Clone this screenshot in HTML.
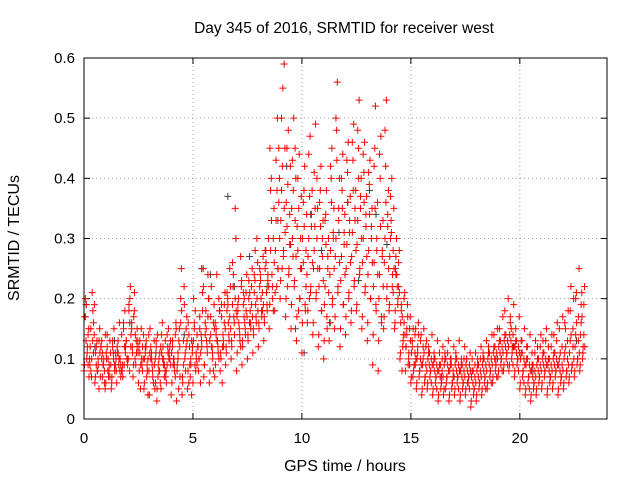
<!DOCTYPE html>
<html><head><meta charset="utf-8"><style>
body{margin:0;background:#fff}
svg{display:block;font-family:"Liberation Sans",sans-serif}
</style></head><body>
<svg id="chart" width="640" height="480">
<rect width="640" height="480" fill="#fff"/>
<text x="344" y="33" font-size="15.5" text-anchor="middle">Day 345 of 2016, SRMTID for receiver west</text>
<text x="19" y="238" font-size="16" text-anchor="middle" transform="rotate(-90 19 238)">SRMTID / TECUs</text>
<text x="345" y="471" font-size="16" text-anchor="middle">GPS time / hours</text>
<g id="grid"></g>
<g id="ticks"></g>
<g id="grey"></g>
<g id="red"></g>
<rect x="84" y="58" width="523" height="361" fill="none" stroke="#000" stroke-width="1"/>
</svg>
<script>
const xTicks=[0,5,10,15,20];
const yTicks=[0,0.1,0.2,0.3,0.4,0.5,0.6];
const yTickLabels=["0","0.1","0.2","0.3","0.4","0.5","0.6"];
const binStep=0.25;
const redBins=[
[8,12,20,15,10,17,9,13],[10,18,8,14,21,12,16,7],[6,9,12,15,8,11,5,13],[7,10,13,5,9,12,8,11],
[6,9,14,11,7,10,13,8],[5,8,12,10,15,7,9,11],[6,10,13,8,16,11,7,9],[8,12,15,10,18,7,13,9],
[9,14,19,12,22,10,16,8],[7,11,21,13,9,17,15,10],[6,9,13,10,15,8,12,5],[5,8,11,14,7,10,4,12],
[4,7,10,13,9,15,6,11],[5,9,12,8,14,6,10,3],[6,10,14,8,12,5,9,16],[7,11,9,13,15,6,10,12],
[4,8,12,16,10,6,14,9],[3,7,11,25,15,9,20,5],[4,8,13,17,10,6,12,22],[5,9,14,11,7,16,4,12],
[6,10,15,12,8,20,14,9],[8,12,17,25,14,10,21,6],[7,11,16,20,13,9,24,18],[6,10,14,19,12,8,16,22],
[7,11,15,18,13,9,20,24],[8,12,17,21,14,10,19,6],[9,13,18,22,16,11,25,20],[10,14,19,30,17,12,35,22],
[8,13,18,22,15,11,27,20],[9,14,19,24,16,12,21,17],[10,15,20,25,18,13,22,16],[11,16,21,26,19,14,30,23],
[12,17,22,27,20,15,18,24],[13,18,25,30,21,16,23,28],[15,20,28,35,24,45,18,40],[18,25,33,40,50,28,45,22],
[20,28,38,45,55,33,59,25],[17,25,32,42,48,36,29,22],[15,23,30,40,50,35,45,27],[13,20,28,37,44,32,25,18],
[11,18,26,34,42,30,22,38],[16,22,30,38,47,27,34,20],[14,21,28,35,49,25,40,32],[12,18,25,33,42,22,30,38],
[10,15,22,30,38,19,27,34],[13,20,28,35,45,24,31,40],[15,22,30,40,56,27,35,48],[12,19,27,34,44,23,31,38],
[14,21,29,37,46,25,33,41],[16,23,31,38,49,27,35,43],[18,25,33,40,53,29,37,45],[15,22,30,37,46,26,34,41],
[13,20,28,35,43,24,32,39],[9,18,26,36,52,22,30,45],[8,16,24,33,47,20,28,40],[15,22,30,38,53,26,34,42],
[18,24,30,35,40,27,21,33],[15,20,24,28,22,18,26,30],[10,14,18,21,12,16,20,8],[8,11,14,17,9,12,15,19],
[6,9,12,15,8,11,14,7],[5,8,11,14,7,10,13,16],[4,7,10,13,6,9,12,15],[5,8,11,14,7,10,6,9],
[4,7,10,13,6,9,5,8],[3,6,9,12,5,8,10,7],[4,7,10,13,6,9,11,5],[3,6,9,12,5,8,7,10],
[4,7,10,13,6,9,5,8],[3,6,9,12,5,8,10,7],[4,7,10,11,6,9,5,8],[2,5,8,11,4,7,9,6],
[3,6,9,12,5,8,10,7],[4,7,10,13,6,9,5,8],[5,8,11,14,7,10,6,9],[6,9,12,15,8,11,7,10],
[7,10,13,17,9,12,8,11],[8,11,14,20,10,13,9,12],[8,12,16,19,10,14,9,13],[7,10,13,17,9,12,8,11],
[5,8,11,15,7,10,6,13],[4,7,10,14,6,9,5,12],[3,6,9,13,5,8,11,7],[4,7,10,14,6,9,12,8],
[5,8,11,15,7,10,13,9],[4,7,10,14,6,9,12,8],[5,8,11,16,7,10,13,9],[4,7,10,17,6,9,12,8],
[5,8,11,18,7,10,13,15],[6,9,13,20,8,11,15,22],[7,10,14,25,9,12,17,21],[8,12,16,22,10,14,19,21]
];
const redBins2=[
[11,9,14,17,7,19],[13,9,11,15,19,10],[10,7,13,9,11,8],[9,12,6,10,14,7],
[8,11,7,12,9,10],[9,6,11,13,8,10],[8,12,9,11,14,10],[11,9,13,16,10,12],
[12,10,15,18,11,20],[13,9,12,18,11,14],[10,12,8,11,14,9],[9,6,10,12,8,13],
[8,11,6,12,9,10],[7,10,8,13,11,5],[9,12,7,11,13,10],[10,8,12,14,9,11],
[9,11,7,13,15,10],[12,8,16,10,18,13],[11,7,15,9,13,19],[10,8,13,6,12,9],
[11,13,9,16,12,18],[13,10,18,15,22,11],[12,9,17,14,20,15],[11,13,8,17,15,12],
[12,16,10,14,18,13],[13,11,16,19,15,12],[14,12,17,21,15,19],[16,13,20,26,18,24],
[14,17,12,19,23,16],[15,13,18,21,17,20],[16,14,19,23,17,21],[17,15,20,24,18,28],
[18,16,21,25,19,23],[19,17,24,28,22,26],[22,19,30,38,26,33],[25,21,36,43,30,38],
[27,23,35,50,31,42],[24,20,34,45,29,39],[22,19,33,43,27,38],[20,17,30,40,25,35],
[19,16,28,36,24,32],[21,18,32,44,26,37],[20,16,30,41,25,35],[18,14,27,36,23,32],
[17,13,25,33,21,29],[19,16,30,42,25,36],[21,17,33,50,26,43],[19,15,29,40,24,35],
[20,17,31,43,26,36],[22,18,33,46,28,38],[24,19,35,48,30,40],[21,17,32,44,27,36],
[20,16,30,41,26,34],[19,14,28,42,24,35],[17,13,27,44,22,32],[20,17,32,48,25,36],
[22,19,28,37,25,31],[19,16,22,27,21,24],[13,11,16,19,14,17],[10,12,9,15,13,17],
[9,7,11,13,10,15],[8,6,10,12,9,14],[7,5,9,12,8,11],[8,6,10,12,9,11],
[7,5,9,11,8,10],[6,4,8,11,7,9],[7,5,9,11,8,10],[6,4,8,10,7,9],
[7,5,9,11,8,10],[6,4,8,10,7,9],[7,5,9,10,8,6],[5,3,7,10,6,8],
[6,4,8,10,7,9],[7,5,9,11,8,10],[8,6,10,12,9,11],[9,7,11,14,10,12],
[10,8,12,15,11,13],[11,9,13,18,12,14],[11,9,14,17,12,15],[10,8,12,15,11,13],
[8,6,10,13,9,11],[7,5,9,12,8,10],[6,4,8,11,7,9],[7,5,9,12,8,10],
[8,6,10,13,9,11],[7,5,9,12,8,10],[8,6,10,14,9,11],[7,5,9,15,8,11],
[8,6,10,16,9,12],[9,7,12,18,10,14],[10,8,13,20,11,16],[11,9,14,19,12,17]
];
const greyHours=[0.1,0.5,1.4,2.1,3.3,4.6,5.4,5.8,6.6,6.9,7.6,8.4,8.9,9.3,9.7,10.1,10.4,10.9,11.3,11.7,12.1,12.6,13.1,13.4,13.9,14.3,15.2,16.4,17.6,18.9,19.7,20.6,21.4,22.6];
const greyValues=[0.19,0.12,0.13,0.16,0.11,0.14,0.25,0.24,0.37,0.22,0.27,0.22,0.33,0.42,0.15,0.11,0.34,0.28,0.16,0.31,0.36,0.23,0.38,0.34,0.29,0.25,0.09,0.07,0.06,0.1,0.12,0.08,0.07,0.13];
const X0=84,X1=607,Y0=419,Y1=58,XMAX=24,YMAX=0.6;
const xs=h=>X0+h*(X1-X0)/XMAX;
const ys=v=>Y0-v*(Y0-Y1)/YMAX;
const NS="http://www.w3.org/2000/svg";
function mk(tag,attrs,parent){const e=document.createElementNS(NS,tag);for(const k in attrs)e.setAttribute(k,attrs[k]);parent.appendChild(e);return e;}
const grid=document.getElementById('grid'),ticks=document.getElementById('ticks');
xTicks.forEach(t=>{const x=xs(t);
 if(t>0){const g=mk('line',{x1:x,y1:Y1,x2:x,y2:Y0,stroke:'#a0a0a0','stroke-dasharray':'1,3'},grid);
 
 }
 mk('line',{x1:x,y1:Y0,x2:x,y2:Y0-6,stroke:'#000'},ticks);
 mk('line',{x1:x,y1:Y1,x2:x,y2:Y1+6,stroke:'#000'},ticks);
 const l=mk('text',{x:x,y:Y0+24,'font-size':15,'text-anchor':'middle'},ticks);l.textContent=t;
 
 
});
yTicks.forEach((t,i)=>{const y=ys(t);
 if(t>0&&t<YMAX){const g=mk('line',{x1:X0,y1:y,x2:X1,y2:y,stroke:'#a0a0a0','stroke-dasharray':'1,3'},grid);
 
 }
 mk('line',{x1:X0,y1:y,x2:X0+6,y2:y,stroke:'#000'},ticks);
 mk('line',{x1:X1,y1:y,x2:X1-6,y2:y,stroke:'#000'},ticks);
 const l=mk('text',{x:X0-9,y:y+5,'font-size':15,'text-anchor':'end'},ticks);l.textContent=yTickLabels[i];
 
 
});
function plus(parent,h,v,color){const x=xs(h),y=ys(v);
 const p=mk('path',{d:`M${x-3.5} ${y}h7M${x} ${y-3.5}v7`,stroke:color,'stroke-width':1,fill:'none'},parent);
 
 }
const grey=document.getElementById('grey'),red=document.getElementById('red');
greyHours.forEach((h,i)=>plus(grey,h,greyValues[i],'#404040'));
const order8=[0,5,2,7,4,1,6,3];
const order6=[3,0,4,1,5,2];
redBins.forEach((bin,b)=>{bin.forEach((v,j)=>plus(red,b*binStep+order8[j]*binStep/8,v/100,'#ff0000'));});
redBins2.forEach((bin,b)=>{bin.forEach((v,j)=>plus(red,b*binStep+(order6[j]+0.5)*binStep/6,v/100,'#ff0000'));});
</script>
</body></html>
